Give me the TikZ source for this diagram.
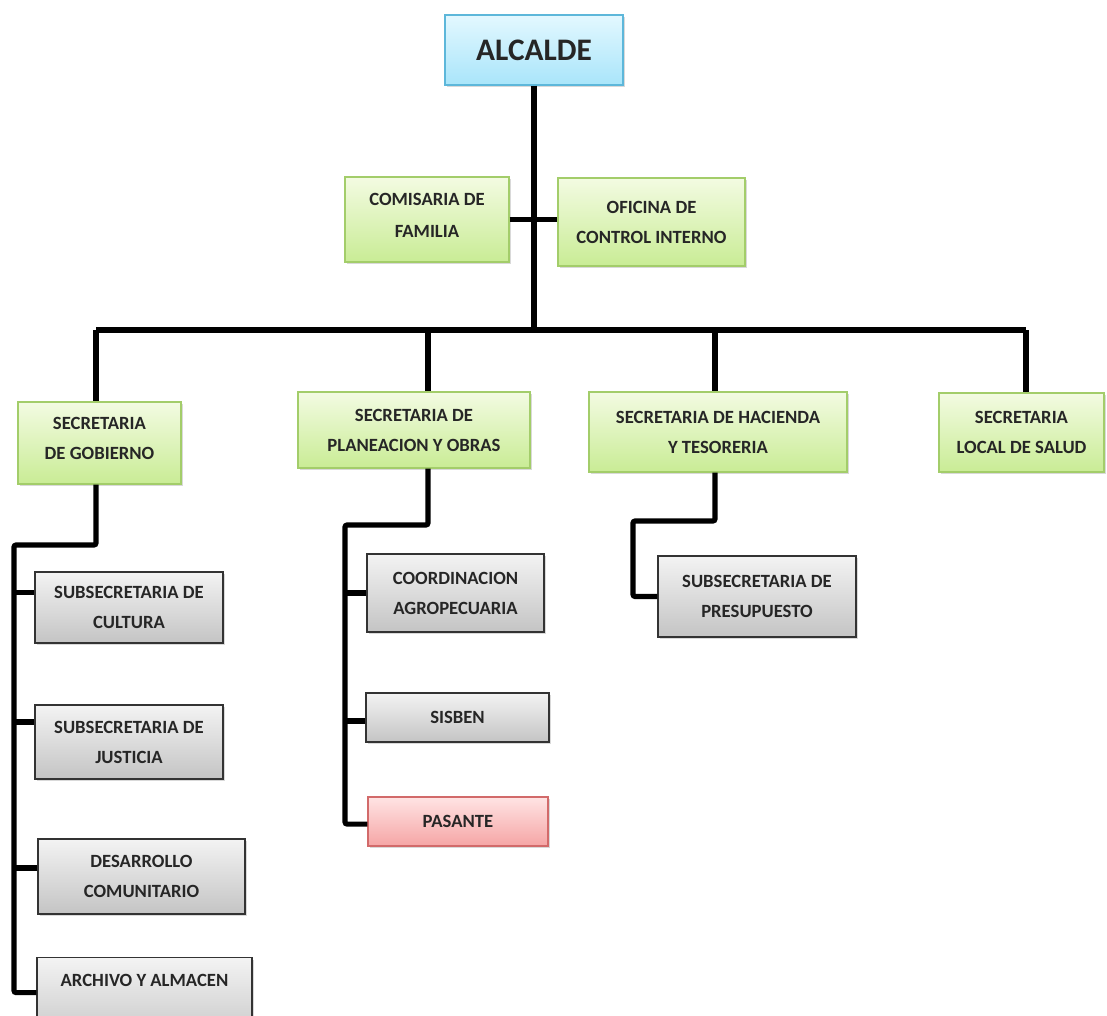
\documentclass[tikz,border=0pt]{standalone}
\usepackage{fontspec}
\setmainfont{Carlito}
\usetikzlibrary{shadows,calc}
\definecolor{cyT}{HTML}{E3F8FF}
\definecolor{cyB}{HTML}{A9E5FA}
\definecolor{cyD}{HTML}{5DB7DA}
\definecolor{grT}{HTML}{F3FBE2}
\definecolor{grB}{HTML}{C9EC95}
\definecolor{grD}{HTML}{A3CD6A}
\definecolor{gyT}{HTML}{F3F3F3}
\definecolor{gyB}{HTML}{C4C4C4}
\definecolor{gyD}{HTML}{333333}
\definecolor{pkT}{HTML}{FFE4E4}
\definecolor{pkB}{HTML}{F5A5A5}
\definecolor{pkD}{HTML}{D26A6A}
\newcommand\obox[7]{\node[#1, minimum width={(#5-#3)*0.75pt}, minimum height={(#6-#4)*0.75pt}] (#2) at ({(#3+#5)/2},{(#4+#6)/2}) {#7};}
\begin{document}
\begin{tikzpicture}[x=0.75pt,y=-0.75pt,
  box/.style={draw, line width=0.9pt, align=center, inner sep=0pt,
    font=\fontsize{14}{22.5}\selectfont\bfseries, text=black!85,
    drop shadow={shadow xshift=1.6pt, shadow yshift=-1.6pt, opacity=0.3}},
  cyanbox/.style={box, draw=cyD, top color=cyT, bottom color=cyB, font=\fontsize{23.5}{26}\selectfont\bfseries},
  greenbox/.style={box, draw=grD, top color=grT, bottom color=grB},
  graybox/.style={box, draw=gyD, top color=gyT, bottom color=gyB},
  pinkbox/.style={box, draw=pkD, top color=pkT, bottom color=pkB},
  conn/.style={line width=3.8pt, black, rounded corners=1.5pt}]
\useasboundingbox (0,0) rectangle (1107,1015);
\clip (0,0) rectangle (1107,1015);
% boxes
\obox{cyanbox}{alc}{445}{15}{623}{85}{ALCALDE}
\obox{greenbox}{com}{345}{177}{509}{262}{COMISARIA DE\\[1.5pt]FAMILIA\\[-16pt]\mbox{}}
\obox{greenbox}{ofi}{558}{178}{745}{266}{OFICINA DE\\CONTROL INTERNO}
\obox{greenbox}{gob}{18}{402}{181}{484}{SECRETARIA\\DE GOBIERNO\\[-15pt]\mbox{}}
\obox{greenbox}{pla}{298}{392}{530}{468}{SECRETARIA DE\\PLANEACION Y OBRAS}
\obox{greenbox}{hac}{589}{392}{847}{472}{SECRETARIA DE HACIENDA\\Y TESORERIA}
\obox{greenbox}{sal}{939}{393}{1104}{472}{SECRETARIA\\LOCAL DE SALUD}
\obox{graybox}{cul}{35}{572}{223}{643}{SUBSECRETARIA DE\\CULTURA}
\obox{graybox}{jus}{35}{705}{223}{779}{SUBSECRETARIA DE\\JUSTICIA}
\obox{graybox}{des}{38}{839}{245}{914}{DESARROLLO\\COMUNITARIO}
\node[graybox, anchor=north, minimum width={215*0.75pt}, text height=21.75pt, text depth=45pt] (arc) at (144.5,957) {ARCHIVO Y ALMACEN};
\obox{graybox}{coo}{367}{554}{544}{632}{COORDINACION\\AGROPECUARIA}
\obox{graybox}{sis}{366}{693}{549}{742}{SISBEN}
\obox{pinkbox}{pas}{368}{797}{548}{846}{PASANTE}
\obox{graybox}{pre}{658}{556}{856}{637}{SUBSECRETARIA DE\\PRESUPUESTO}
% coordinates
\coordinate (bl) at (96,330);
\coordinate (bp) at (428,330);
\coordinate (bh) at (715,330);
\coordinate (br) at (1026,330);
\coordinate (gs) at (14,545);
\coordinate (ps) at (345,525);
\coordinate (hs) at (633,521);
\coordinate (culs) at ([yshift=11pt]cul.west);
\coordinate (juss) at ([yshift=15pt]jus.west);
\coordinate (dess) at ([yshift=6.4pt]des.west);
\coordinate (arcs) at ([yshift=-4.5pt]arc.base west);
\coordinate (siss) at ([yshift=-2.6pt]sis.west);
\coordinate (pass) at ([yshift=-1.9pt]pas.west);
% connectors
\draw[conn] (alc.south) -- (alc.south |- bl);
\draw[conn] (com.east) -- (com.east -| ofi.west);
\draw[conn] (bl) -- (br);
\draw[conn] (bl) -- (bl |- gob.north);
\draw[conn] (bp) -- (bp |- pla.north);
\draw[conn] (bh) -- (bh |- hac.north);
\draw[conn] (br) -- (br |- sal.north);
\draw[conn] (bl |- gob.south) |- (gs) |- (arcs);
\draw[conn] (culs) -- (culs -| gs);
\draw[conn] (juss) -- (juss -| gs);
\draw[conn] (dess) -- (dess -| gs);
\draw[conn] (bp |- pla.south) |- (ps) |- (pass);
\draw[conn] (coo.west) -- (coo.west -| ps);
\draw[conn] (siss) -- (siss -| ps);
\draw[conn] (bh |- hac.south) |- (hs) |- (pre.west);
\end{tikzpicture}
\end{document}
